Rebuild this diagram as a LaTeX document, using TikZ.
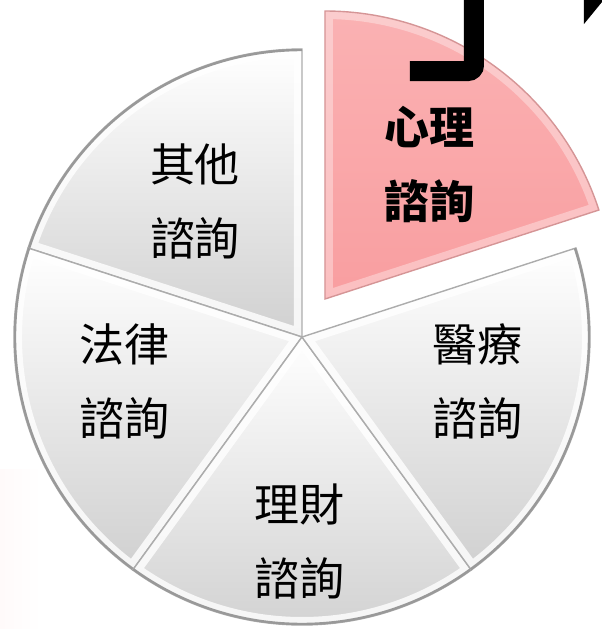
\documentclass[tikz,border=0pt]{standalone}
\usepackage{fontspec}
\newfontfamily\cjk{Noto Sans CJK TC}
\definecolor{pinkseg}{RGB}{249,158,160}
\definecolor{grayseg}{RGB}{208,208,208}
\newcommand\segpath[3]{(#1) -- ++(#2:288) arc[start angle=#2, end angle=#3, radius=288] -- cycle}
\tikzset{
  seglabel/.style={font={\cjk\fontsize{22.5}{37}\selectfont}, align=left, inner sep=0pt},
  segedge/.style={draw=gray!65, line width=0.7pt},
}
\begin{document}
\begin{tikzpicture}[x=0.5pt,y=0.5pt]
\useasboundingbox (0,0) rectangle (602,629);
\clip (0,0) rectangle (602,629);

% faint glow at the left border
\shade[left color=red!2, right color=white] (0,0) rectangle (42,160);

\coordinate (c) at (302,292);
\coordinate (cp) at (325,330);

% the four grey slices
\foreach \a/\b in {90/162, 162/234, 234/306, 306/378}{
  \begin{scope}
    \clip \segpath{c}{\a}{\b};
    \shade[top color=white, bottom color=grayseg] \segpath{c}{\a}{\b};
    \draw[white, opacity=0.8, line width=8pt] \segpath{c}{\a}{\b};
  \end{scope}
  \draw[segedge] \segpath{c}{\a}{\b};
  \draw[gray!80, line width=1.2pt] (c) ++(\a:287) arc[start angle=\a, end angle=\b, radius=287];
}

% the pulled-out slice
\begin{scope}
  \clip \segpath{cp}{18}{90};
  \shade[top color=pinkseg!80!white, bottom color=pinkseg] \segpath{cp}{18}{90};
  \draw[white, opacity=0.35, line width=8pt] \segpath{cp}{18}{90};
\end{scope}
\draw[draw=pinkseg!70!gray, line width=0.7pt] \segpath{cp}{18}{90};

% black bent bar and arrow tip at the top
\draw[line width=10pt, rounded corners=3pt] (474,650) -- (474,558) -- (410,558);
\fill (584,629) -- (584,605) -- (602,627) -- (602,629) -- cycle;

\node[seglabel] (other) at (195,428) {其他\\諮詢};
\node[seglabel, font={\cjk\bfseries\fontsize{22.5}{37}\selectfont}] (psych) at (430,465) {心理\\諮詢};
\node[seglabel] (law) at (125,248) {法律\\諮詢};
\node[seglabel] (med) at (478,248) {醫療\\諮詢};
\node[seglabel] (money) at (300,87) {理財\\諮詢};

\end{tikzpicture}
\end{document}
